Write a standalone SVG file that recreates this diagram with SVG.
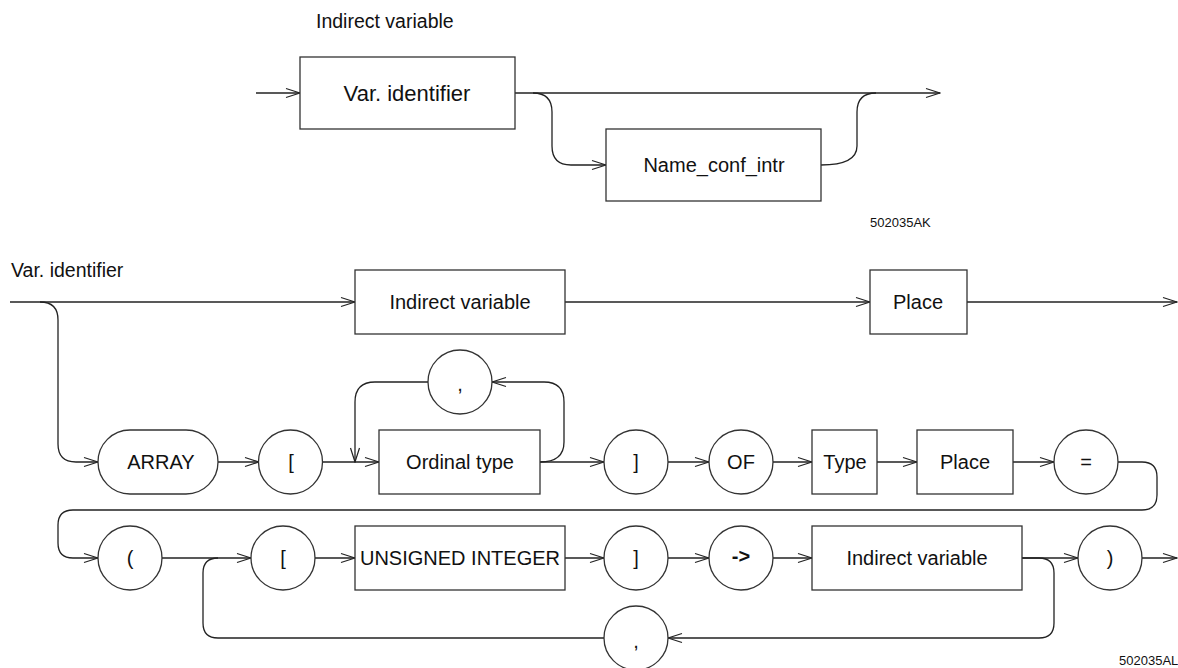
<svg xmlns="http://www.w3.org/2000/svg" width="1178" height="668" viewBox="0 0 1178 668">
  <style>
    .ln { fill: none; stroke: #222; stroke-width: 1.3; }
    .bx { fill: #fff; stroke: #333; stroke-width: 1.3; }
    .lb { font-family: "Liberation Sans", Arial, sans-serif; font-size: 20px; fill: #111; text-anchor: middle; dominant-baseline: central; }
    .lg { font-size: 22px; }
    .ttl { font-family: "Liberation Sans", Arial, sans-serif; font-size: 19.5px; fill: #111; }
    .code { font-family: "Liberation Sans", Arial, sans-serif; font-size: 13px; fill: #111; }
  </style>
  <defs>
    <marker id="arr" markerWidth="16" markerHeight="12" refX="15" refY="6" orient="auto" markerUnits="userSpaceOnUse">
      <path d="M1,1.5 L15,6 L1,10.5" fill="none" stroke="#222" stroke-width="1.2"/>
    </marker>
  </defs>
  <rect width="1178" height="668" fill="#fff"/>

  <!-- upper syntax chart: Indirect variable -->
  <text class="ttl" x="316" y="28">Indirect variable</text>
  <text class="code" x="870" y="227">502035AK</text>

  <!-- lower syntax chart: Var. identifier -->
  <text class="ttl" x="11" y="277">Var. identifier</text>
  <text class="code" x="1119" y="665">502035AL</text>

  <g id="connectors">
    <!-- upper chart -->
    <path class="ln" d="M256,93 H300" marker-end="url(#arr)"/>
    <path class="ln" d="M515,93 H940" marker-end="url(#arr)"/>
    <path class="ln" d="M533,93 Q552,93 552,112 V146 Q552,165 571,165 H606" marker-end="url(#arr)"/>
    <path class="ln" d="M821,165 Q857,165 857,146 V112 Q857,93 876,93"/>

    <!-- lower chart, first row -->
    <path class="ln" d="M10,302 H355" marker-end="url(#arr)"/>
    <path class="ln" d="M565,302 H870" marker-end="url(#arr)"/>
    <path class="ln" d="M967,302 H1177" marker-end="url(#arr)"/>
    <path class="ln" d="M40,302 Q58,302 58,320 V444 Q58,462 76,462 H98" marker-end="url(#arr)"/>

    <!-- second row -->
    <path class="ln" d="M218,462 H259" marker-end="url(#arr)"/>
    <path class="ln" d="M322,462 H379" marker-end="url(#arr)"/>
    <path class="ln" d="M540,462 H604" marker-end="url(#arr)"/>
    <path class="ln" d="M540,462 Q564,462 564,442 V402 Q564,382 544,382 H492" marker-end="url(#arr)"/>
    <path class="ln" d="M428,382 H375 Q355,382 355,402 V462" marker-end="url(#arr)"/>
    <path class="ln" d="M668,462 H709" marker-end="url(#arr)"/>
    <path class="ln" d="M773,462 H812" marker-end="url(#arr)"/>
    <path class="ln" d="M877,462 H917" marker-end="url(#arr)"/>
    <path class="ln" d="M1013,462 H1054" marker-end="url(#arr)"/>
    <path class="ln" d="M1118,462 H1142 Q1157,462 1157,477 V495 Q1157,510 1142,510 H73 Q58,510 58,525 V543 Q58,558 73,558 H98" marker-end="url(#arr)"/>

    <!-- third row -->
    <path class="ln" d="M162,558 H251" marker-end="url(#arr)"/>
    <path class="ln" d="M315,558 H355" marker-end="url(#arr)"/>
    <path class="ln" d="M565,558 H604" marker-end="url(#arr)"/>
    <path class="ln" d="M668,558 H709" marker-end="url(#arr)"/>
    <path class="ln" d="M773,558 H812" marker-end="url(#arr)"/>
    <path class="ln" d="M1022,558 H1078" marker-end="url(#arr)"/>
    <path class="ln" d="M1142,558 H1177" marker-end="url(#arr)"/>
    <path class="ln" d="M1022,558 H1039 Q1054,558 1054,573 V623 Q1054,638 1039,638 H668" marker-end="url(#arr)"/>
    <path class="ln" d="M604,638 H218 Q203,638 203,623 V573 Q203,558 218,558"/>
  </g>

  <g id="var-identifier-top"><rect class="bx" x="300" y="57" width="215" height="72"/><text class="lb lg" x="407" y="93">Var. identifier</text></g>
  <g id="name-conf-intr"><rect class="bx" x="606" y="129" width="215" height="72"/><text class="lb" x="714" y="165">Name_conf_intr</text></g>

  <g id="indirect-variable-1"><rect class="bx" x="355" y="270" width="210" height="64"/><text class="lb" x="460" y="302">Indirect variable</text></g>
  <g id="place-1"><rect class="bx" x="870" y="270" width="97" height="64"/><text class="lb" x="918" y="302">Place</text></g>

  <g id="array"><rect class="bx" x="98" y="430" width="120" height="64" rx="32" ry="32"/><text class="lb" x="161" y="462">ARRAY</text></g>
  <g id="lbracket-1"><circle class="bx" cx="290.5" cy="462" r="32"/><text class="lb" x="291" y="462">[</text></g>
  <g id="ordinal-type"><rect class="bx" x="379" y="430" width="161" height="64"/><text class="lb" x="460" y="462">Ordinal type</text></g>
  <g id="comma-1"><circle class="bx" cx="460" cy="382" r="32"/><text class="lb" x="460" y="384">,</text></g>
  <g id="rbracket-1"><circle class="bx" cx="636" cy="462" r="32"/><text class="lb" x="636" y="462">]</text></g>
  <g id="of"><circle class="bx" cx="741" cy="462" r="32"/><text class="lb" x="741" y="462">OF</text></g>
  <g id="type"><rect class="bx" x="812" y="430" width="65" height="64"/><text class="lb" x="845" y="462">Type</text></g>
  <g id="place-2"><rect class="bx" x="917" y="430" width="96" height="64"/><text class="lb" x="965" y="462">Place</text></g>
  <g id="equals"><circle class="bx" cx="1086" cy="462" r="32"/><text class="lb" x="1086" y="462">=</text></g>

  <g id="lparen"><circle class="bx" cx="130" cy="558" r="32"/><text class="lb" x="130" y="558">(</text></g>
  <g id="lbracket-2"><circle class="bx" cx="283" cy="558" r="32"/><text class="lb" x="283" y="558">[</text></g>
  <g id="unsigned-integer"><rect class="bx" x="355" y="526" width="210" height="64"/><text class="lb" x="460" y="558" font-size="19">UNSIGNED INTEGER</text></g>
  <g id="rbracket-2"><circle class="bx" cx="636" cy="558" r="32"/><text class="lb" x="636" y="558">]</text></g>
  <g id="arrow-op"><circle class="bx" cx="741" cy="558" r="32"/><text class="lb" x="741" y="556" font-size="24" font-weight="bold">-&gt;</text></g>
  <g id="indirect-variable-2"><rect class="bx" x="812" y="526" width="210" height="64"/><text class="lb" x="917" y="558">Indirect variable</text></g>
  <g id="rparen"><circle class="bx" cx="1110" cy="558" r="32"/><text class="lb" x="1110" y="558">)</text></g>
  <g id="comma-2"><circle class="bx" cx="636" cy="638" r="32"/><text class="lb" x="636" y="641">,</text></g>
</svg>
